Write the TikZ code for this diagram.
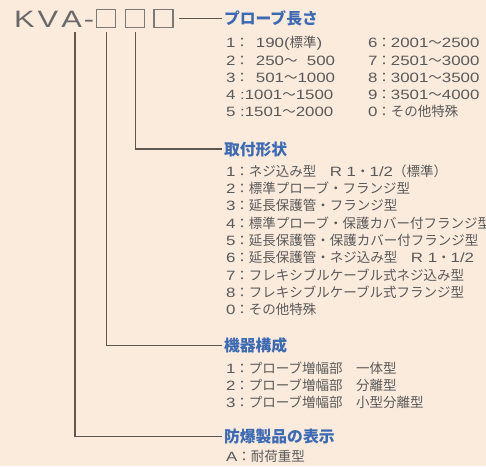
\documentclass[tikz,border=0pt]{standalone}
\usepackage{fontspec}
\newfontfamily\jp{Noto Sans CJK JP}
\newfontfamily\dg[FakeStretch=1.25]{Liberation Sans}
\newfontfamily\kvafont[FakeStretch=1.3]{Liberation Sans}
\definecolor{bgc}{RGB}{251,235,221}
\definecolor{ttlc}{RGB}{60,106,180}
\definecolor{txtc}{RGB}{90,90,90}
\definecolor{linec}{RGB}{96,86,80}
\definecolor{boxc}{RGB}{125,121,118}
\definecolor{kvac}{RGB}{105,105,105}
\begin{document}
\begin{tikzpicture}[x=1pt,y=-1pt,
  conn/.style={draw=linec,line width=1.1pt},
  ttl/.style={anchor=west,inner sep=0pt,inner xsep=2pt,outer sep=0pt,text=ttlc,
    font=\jp\bfseries\fontsize{15.8}{16}\selectfont,text height=13.9pt,text depth=1.9pt},
  itm/.style={anchor=base west,inner sep=0pt,outer sep=0pt,text=txtc,
    font=\jp\fontsize{13.5}{15}\selectfont},
  sq/.style={draw=boxc,line width=1.2pt,minimum width=19pt,minimum height=17.5pt,inner sep=0pt}]
\useasboundingbox (0,0) rectangle (486,466);
\fill[bgc] (0,0) rectangle (486,466);
% part number
\node[anchor=base west,inner sep=0pt,text=kvac,font=\kvafont\fontsize{23.7}{24}\selectfont] (kva) at (14,27) {K\kern3pt V\kern3pt A\kern2pt-};
\node[sq] (b1) at (106.2,18.5) {};
\node[sq] (b2) at (134.8,18.5) {};
\node[sq] (b3) at (163.4,18.5) {};
% titles
\node[ttl] (t1) at (222,18.3) {プローブ長さ};
\node[ttl] (t2) at (222,149) {取付形状};
\node[ttl] (t3) at (222,345.3) {機器構成};
\node[ttl] (t4) at (222,436.7) {防爆製品の表示};
% connectors
\coordinate (pA) at (75,32);
\coordinate (pB) at (106.7,32);
\coordinate (pC) at (135.7,32);
\coordinate (pD) at (179,18.3);
\draw[conn] (pA) |- (t4.west);
\draw[conn] (pB) |- (t3.west);
\draw[conn] (pC) |- (t2.west);
\draw[conn] (pD) -- (t1.west);
% group 1
\node[itm] (g1a) at (226,47.7) {{\dg 1}：\hspace{7pt}{\dg 190(}標準{\dg )}};
\node[itm] (g1b) at (226,65.0) {{\dg 2}：\hspace{7pt}{\dg 250}～{\dg\phantom{0}500}};
\node[itm] (g1c) at (226,82.3) {{\dg 3}：\hspace{7pt}{\dg 501}～{\dg 1000}};
\node[itm] (g1d) at (226,99.6) {{\dg 4 :1001}～{\dg 1500}};
\node[itm] (g1e) at (226,116.9) {{\dg 5 :1501}～{\dg 2000}};
\node[itm] (g1f) at (368,47.7) {{\dg 6}：{\dg 2001}～{\dg 2500}};
\node[itm] (g1g) at (368,65.0) {{\dg 7}：{\dg 2501}～{\dg 3000}};
\node[itm] (g1h) at (368,82.3) {{\dg 8}：{\dg 3001}～{\dg 3500}};
\node[itm] (g1i) at (368,99.6) {{\dg 9}：{\dg 3501}～{\dg 4000}};
\node[itm] (g1j) at (368,116.9) {{\dg 0}：その他特殊};
% group 2
\node[itm] (g2a) at (226,176.1) {{\dg 1}：ネジ込み型　{\dg R 1}・{\dg 1/2}（標準）};
\node[itm] (g2b) at (226,193.5) {{\dg 2}：標準プローブ・フランジ型};
\node[itm] (g2c) at (226,210.8) {{\dg 3}：延長保護管・フランジ型};
\node[itm] (g2d) at (226,228.2) {{\dg 4}：標準プローブ・保護カバー付フランジ型};
\node[itm] (g2e) at (226,245.5) {{\dg 5}：延長保護管・保護カバー付フランジ型};
\node[itm] (g2f) at (226,262.9) {{\dg 6}：延長保護管・ネジ込み型　{\dg R 1}・{\dg 1/2}};
\node[itm] (g2g) at (226,280.2) {{\dg 7}：フレキシブルケーブル式ネジ込み型};
\node[itm] (g2h) at (226,297.6) {{\dg 8}：フレキシブルケーブル式フランジ型};
\node[itm] (g2i) at (226,314.9) {{\dg 0}：その他特殊};
% group 3
\node[itm] (g3a) at (226,373.1) {{\dg 1}：プローブ増幅部　一体型};
\node[itm] (g3b) at (226,390.4) {{\dg 2}：プローブ増幅部　分離型};
\node[itm] (g3c) at (226,407.7) {{\dg 3}：プローブ増幅部　小型分離型};
% group 4
\node[itm] (g4a) at (226,461.8) {{\dg A}：耐荷重型};
\end{tikzpicture}
\end{document}
